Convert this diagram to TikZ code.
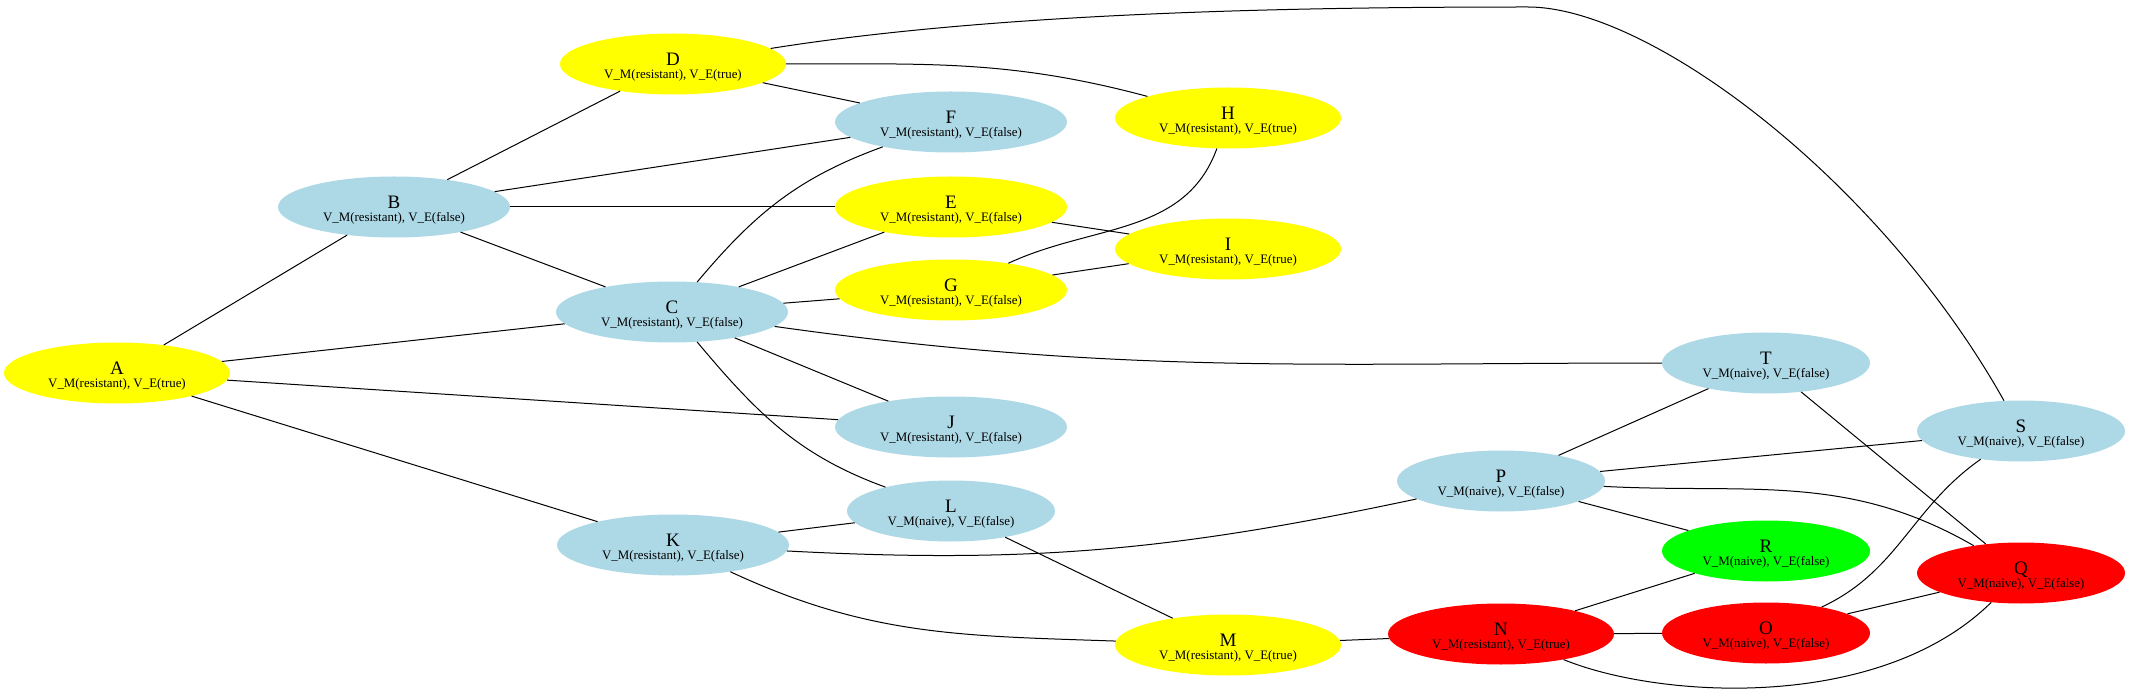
\documentclass[tikz,border=0pt]{standalone}
\usepackage{fontspec}
\setmainfont{Liberation Serif}
\usetikzlibrary{shapes.geometric}
\definecolor{gvyellow}{HTML}{FFFF00}
\definecolor{gvblue}{HTML}{ADD8E6}
\definecolor{gvred}{HTML}{FF0000}
\definecolor{gvgreen}{HTML}{00FF00}
\newcommand\nlab[2]{{\fontsize{19}{19}\selectfont\rule{0pt}{18pt}#1}\\[-1pt]#2}
\tikzset{
  gnode/.style={ellipse, inner sep=0pt, minimum height=61pt, align=center,
    font=\fontsize{12.9}{14}\selectfont},
  rf/.style={gnode, minimum width=232pt},
  rt/.style={gnode, minimum width=226pt},
  nf/.style={gnode, minimum width=208pt},
  cy/.style={fill=gvyellow},
  cb/.style={fill=gvblue},
  cr/.style={fill=gvred},
  cg/.style={fill=gvgreen},
  edge/.style={draw=black, line width=1pt}
}
\begin{document}
\begin{tikzpicture}[x=1pt,y=1pt]
\useasboundingbox[fill=white] (0,0) rectangle (2130,697);
\node[rt,cy] (A) at (117,324) {\nlab{A}{V\_M(resistant), V\_E(true)}};
\node[rf,cb] (B) at (394,490) {\nlab{B}{V\_M(resistant), V\_E(false)}};
\node[rf,cb] (C) at (672,385) {\nlab{C}{V\_M(resistant), V\_E(false)}};
\node[rt,cy] (D) at (673,633) {\nlab{D}{V\_M(resistant), V\_E(true)}};
\node[rf,cy] (E) at (951,490) {\nlab{E}{V\_M(resistant), V\_E(false)}};
\node[rf,cb] (F) at (951,575) {\nlab{F}{V\_M(resistant), V\_E(false)}};
\node[rf,cy] (G) at (951,407) {\nlab{G}{V\_M(resistant), V\_E(false)}};
\node[rt,cy] (H) at (1228,579) {\nlab{H}{V\_M(resistant), V\_E(true)}};
\node[rt,cy] (I) at (1228,448) {\nlab{I}{V\_M(resistant), V\_E(true)}};
\node[rf,cb] (J) at (951,270) {\nlab{J}{V\_M(resistant), V\_E(false)}};
\node[rf,cb] (K) at (673,152) {\nlab{K}{V\_M(resistant), V\_E(false)}};
\node[nf,cb] (L) at (951,186) {\nlab{L}{V\_M(naive), V\_E(false)}};
\node[rt,cy] (M) at (1228,52) {\nlab{M}{V\_M(resistant), V\_E(true)}};
\node[rt,cr] (N) at (1501,63) {\nlab{N}{V\_M(resistant), V\_E(true)}};
\node[nf,cr] (O) at (1766,64) {\nlab{O}{V\_M(naive), V\_E(false)}};
\node[nf,cb] (P) at (1501,216) {\nlab{P}{V\_M(naive), V\_E(false)}};
\node[nf,cr] (Q) at (2021,124) {\nlab{Q}{V\_M(naive), V\_E(false)}};
\node[nf,cg] (R) at (1766,146) {\nlab{R}{V\_M(naive), V\_E(false)}};
\node[nf,cb] (S) at (2021,266) {\nlab{S}{V\_M(naive), V\_E(false)}};
\node[nf,cb] (T) at (1766,334) {\nlab{T}{V\_M(naive), V\_E(false)}};
\coordinate (dstop) at (1528,690);
% straight edges
\draw[edge] (A) -- (B);
\draw[edge] (A) -- (C);
\draw[edge] (A) -- (J);
\draw[edge] (A) -- (K);
\draw[edge] (B) -- (D);
\draw[edge] (B) -- (F);
\draw[edge] (B) -- (E);
\draw[edge] (B) -- (C);
\draw[edge] (C) -- (E);
\draw[edge] (C) -- (G);
\draw[edge] (C) -- (J);
\draw[edge] (D) -- (F);
\draw[edge] (G) -- (I);
\draw[edge] (E) -- (I);
\draw[edge] (K) -- (L);
\draw[edge] (L) -- (M);
\draw[edge] (M) -- (N);
\draw[edge] (N) -- (O);
\draw[edge] (N) -- (R);
\draw[edge] (O) -- (Q);
\draw[edge] (P) -- (T);
\draw[edge] (P) -- (S);
\draw[edge] (P) -- (R);
\draw[edge] (T) -- (Q);
% curved edges
\draw[edge] (C) to[out=50,in=200] (F);
\draw[edge] (C) to[out=-50,in=160] (L);
\draw[edge] (C) to[out=-8,in=180] (T);
\draw[edge] (D) to[out=0,in=165] (H);
\draw[edge] (G) to[out=25,in=-110] (H);
\draw[edge] (K) to[out=-3,in=192] (P);
\draw[edge] (K) to[out=-25,in=178] (M);
\draw[edge] (N) .. controls (1660,-2) and (1880,-15) .. (Q);
\draw[edge] (O) to[out=25,in=215] (S);
\draw[edge] (P) to[out=-3,in=150] (Q);
\draw[edge] (D) .. controls (1000,685) and (1300,690) .. (dstop)
  .. controls (1650,690) and (1880,517) .. (S);
\end{tikzpicture}
\end{document}
